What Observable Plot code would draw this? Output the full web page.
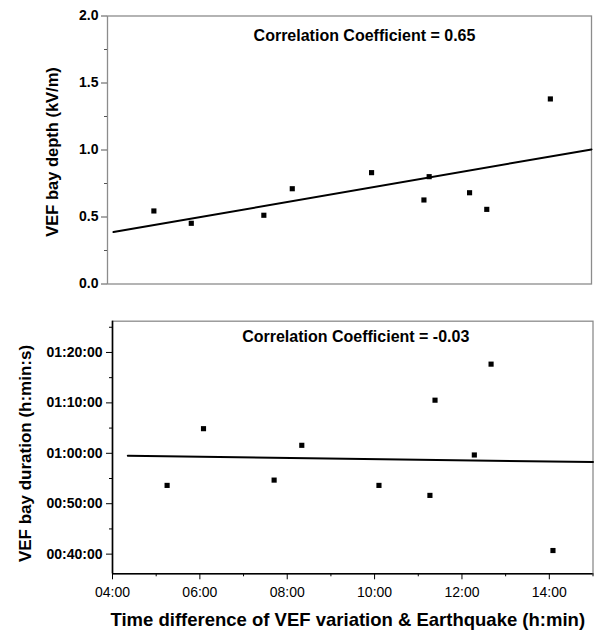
<!DOCTYPE html>
<html><head><meta charset="utf-8">
<script src="https://cdn.jsdelivr.net/npm/d3@7"></script>
<script src="https://cdn.jsdelivr.net/npm/@observablehq/plot@0.6"></script>
<style>
body{margin:0;background:#fff}
svg{display:block}
.topPlot [aria-label="y-axis tick"]{stroke:#555}
</style>
</head><body><div id="chart"></div>
<script>
// ---- data ----
const timeDiff    = ["05:15","06:05","07:42","08:20","10:06","11:16","11:23","12:17","12:40","14:05"]; // h:min
const bayDepth    = [0.545, 0.453, 0.513, 0.711, 0.831, 0.627, 0.801, 0.681, 0.557, 1.381];          // kV/m
const bayDuration = ["00:53:38","01:04:53","00:54:41","01:01:35","00:53:38","00:51:39","01:10:32","00:59:40","01:17:41","00:40:43"]; // h:min:s

const depthTicks        = [0, 0.5, 1.0, 1.5, 2.0];
const depthMinorTicks   = [0.25, 0.75, 1.25, 1.75];
const durationTicks     = ["00:40:00","00:50:00","01:00:00","01:10:00","01:20:00"];
const durationMinorTicks= ["00:45:00","00:55:00","01:05:00","01:15:00","01:25:00"];
const timeTicks         = ["04:00","06:00","08:00","10:00","12:00","14:00"];
const timeMinorTicks    = ["05:00","07:00","09:00","11:00","13:00","15:00"];
const fitSpan           = ["04:21","15:00"];
const topXDomain        = ["04:13","15:00"];
const bottomXDomain     = ["04:00","15:00"];
const depthDomain       = [0, 2];
const durationDomain    = ["00:36:06","01:26:12"];

const corrTop    = "Correlation Coefficient = 0.65";
const corrBottom = "Correlation Coefficient = -0.03";
const yTitleTop  = "VEF bay depth (kV/m)";
const yTitleBot  = "VEF bay duration (h:min:s)";
const xTitle     = "Time difference of VEF variation & Earthquake (h:min)";

// ---- helpers ----
const hm  = s => { const [h, m] = s.split(":").map(Number); return h + m / 60; };          // hours
const hms = s => { const [h, m, sec] = s.split(":").map(Number); return h * 60 + m + sec / 60; }; // minutes
function fit(xs, ys) {
  const mx = d3.mean(xs), my = d3.mean(ys);
  const b = d3.sum(xs, (x, i) => (x - mx) * (ys[i] - my)) / d3.sum(xs, x => (x - mx) ** 2);
  return x => my + b * (x - mx);
}

const X = timeDiff.map(hm);
const depthData = X.map((x, i) => ({x, y: bayDepth[i]}));
const durY = bayDuration.map(hms);
const durData = X.map((x, i) => ({x, y: durY[i]}));
const fTop = fit(X, bayDepth), fBot = fit(X, durY);
const spanX = fitSpan.map(hm);
const fitTop = spanX.map(x => ({x, y: fTop(x)}));
const fitBot = spanX.map(x => ({x, y: fBot(x)}));

const FONT = "'Liberation Sans', Arial, Helvetica, sans-serif";
const durLabel = new Map(durationTicks.map(s => [hms(s), s]));
const timeLabel = new Map(timeTicks.map(s => [hm(s), s]));

const topPlot = Plot.plot({
  width: 595, height: 300,
  marginTop: 15.5, marginBottom: 16.5, marginLeft: 107, marginRight: 4,
  style: {fontFamily: FONT, background: "white", overflow: "visible", color: "black"},
  x: {domain: topXDomain.map(hm), axis: null},
  y: {domain: depthDomain},
  marks: [
    Plot.frame({stroke: "#8c8c8c", strokeWidth: 1.3}),
    Plot.axisY({ticks: depthTicks, tickSize: 6, tickPadding: 3, tickFormat: d3.format(".1f"),
      fontSize: 14, fontWeight: "bold", label: null}),
    Plot.axisY({ticks: depthMinorTicks, tickSize: 3, tickFormat: () => "", label: null}),
    Plot.line(fitTop, {x: "x", y: "y", stroke: "black", strokeWidth: 2}),
    Plot.dot(depthData, {x: "x", y: "y", symbol: "square", r: 2.9, fill: "black", stroke: "none"}),
    Plot.text([corrTop], {frameAnchor: "top", dx: 15, dy: 20, lineAnchor: "middle",
      fontSize: 16, fontWeight: "bold", fill: "black"}),
    Plot.text([yTitleTop], {frameAnchor: "left", textAnchor: "middle", lineAnchor: "middle",
      rotate: -90, dx: -55, dy: 2, fontSize: 16.5, fontWeight: "bold", fill: "black"})
  ]
});
topPlot.classList.add("topPlot");

const botPlot = Plot.plot({
  width: 595, height: 330,
  marginTop: 20.7, marginBottom: 56.7, marginLeft: 112, marginRight: 2.5,
  style: {fontFamily: FONT, background: "white", overflow: "visible", color: "black"},
  x: {domain: bottomXDomain.map(hm)},
  y: {domain: durationDomain.map(hms)},
  marks: [
    Plot.frame({stroke: "#8c8c8c", strokeWidth: 1.3}),
    Plot.ruleX([hm(bottomXDomain[0])], {stroke: "black", strokeWidth: 1.6}),
    Plot.ruleY([hms(durationDomain[0])], {stroke: "black", strokeWidth: 1.6}),
    Plot.axisY({ticks: durationTicks.map(hms), tickSize: 6, tickPadding: 4,
      tickFormat: d => durLabel.get(d), fontSize: 14, fontWeight: "bold", label: null}),
    Plot.axisY({ticks: durationMinorTicks.map(hms), tickSize: 3, tickFormat: () => "", label: null}),
    Plot.axisX({ticks: timeTicks.map(hm), tickSize: 6, tickPadding: 7,
      tickFormat: d => timeLabel.get(d), fontSize: 14, label: null}),
    Plot.axisX({ticks: timeMinorTicks.map(hm), tickSize: 3, tickFormat: () => "", label: null}),
    Plot.line(fitBot, {x: "x", y: "y", stroke: "black", strokeWidth: 2}),
    Plot.dot(durData, {x: "x", y: "y", symbol: "square", r: 2.9, fill: "black", stroke: "none"}),
    Plot.text([corrBottom], {frameAnchor: "top", dx: 3, dy: 16, lineAnchor: "middle",
      fontSize: 16, fontWeight: "bold", fill: "black"}),
    Plot.text([yTitleBot], {frameAnchor: "left", textAnchor: "middle", lineAnchor: "middle",
      rotate: -90, dx: -87, dy: 6, fontSize: 17, fontWeight: "bold", fill: "black"}),
    Plot.text([xTitle], {frameAnchor: "bottom", dx: -5, dy: 46, lineAnchor: "middle",
      fontSize: 18.5, fontWeight: "bold", fill: "black"})
  ]
});

const chart = document.getElementById("chart");
chart.appendChild(topPlot);
chart.appendChild(botPlot);
</script>
</body></html>
